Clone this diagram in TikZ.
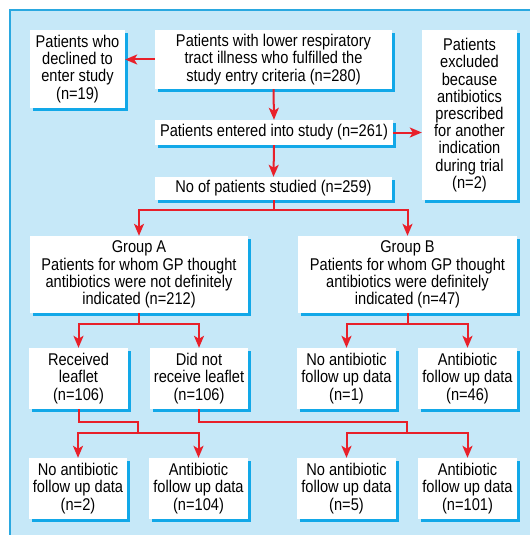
\documentclass[tikz,border=0pt]{standalone}
\usepackage{fontspec}
\setmainfont[FakeStretch=0.86]{Liberation Sans}
\usetikzlibrary{arrows.meta,shadows,calc}
\definecolor{bg}{HTML}{C6E8F8}
\definecolor{edge}{HTML}{2AA8E0}
\definecolor{shad}{HTML}{12A8E8}
\definecolor{arr}{HTML}{E8202A}
\begin{document}
\begin{tikzpicture}[x=1pt,y=-1pt,
 box/.style={fill=white, align=center, inner sep=0pt,
   font=\fontsize{17}{17.2}\selectfont,
   drop shadow={shadow xshift=3pt, shadow yshift=-3pt, fill=shad, opacity=1}},
 conn/.style={draw=arr, line width=2pt, -{Stealth[length=12pt,width=10pt,inset=3pt]}},
 plain/.style={draw=arr, line width=2pt}]
\useasboundingbox (0,0) rectangle (530,535);
\fill[bg] (10,10) rectangle (530,535);
\draw[edge, line width=1.3pt] (10,535) -- (10,10) -- (530,10);

\node[box, minimum width=95pt, minimum height=78pt] (decl) at (77.5,69) {Patients who\\declined to\\enter study\\(n=19)};
\node[box, minimum width=237pt, minimum height=59pt] (top) at (273.5,59.5) {Patients with lower respiratory\\tract illness who fulfilled the\\study entry criteria (n=280)};
\node[box, minimum width=238pt, minimum height=25pt] (entered) at (274,132.5) {Patients entered into study (n=261)};
\node[box, minimum width=237pt, minimum height=23pt] (studied) at (273.5,188.5) {No of patients studied (n=259)};
\node[box, minimum width=95pt, minimum height=170pt] (excl) at (469.5,115) {Patients\\excluded\\because\\antibiotics\\prescribed\\for another\\indication\\during trial\\(n=2)};
\node[box, minimum width=218pt, minimum height=77pt] (gA) at (139,274.5) {Group A\\Patients for whom GP thought\\antibiotics were not definitely\\indicated (n=212)};
\node[box, minimum width=219pt, minimum height=77pt] (gB) at (407.5,274.5) {Group B\\Patients for whom GP thought\\antibiotics were definitely\\indicated (n=47)};
\node[box, minimum width=99pt, minimum height=61pt] (recv) at (78.5,378.5) {Received\\leaflet\\(n=106)};
\node[box, minimum width=98pt, minimum height=61pt] (notrecv) at (199,378.5) {Did not\\receive leaflet\\(n=106)};
\node[box, minimum width=99pt, minimum height=61pt] (b1) at (346.5,378.5) {No antibiotic\\follow up data\\(n=1)};
\node[box, minimum width=99pt, minimum height=61pt] (b46) at (467.5,378.5) {Antibiotic\\follow up data\\(n=46)};
\node[box, minimum width=98pt, minimum height=61pt] (n2) at (78,488.5) {No antibiotic\\follow up data\\(n=2)};
\node[box, minimum width=99pt, minimum height=61pt] (n104) at (198.5,488.5) {Antibiotic\\follow up data\\(n=104)};
\node[box, minimum width=99pt, minimum height=61pt] (n5) at (346.5,488.5) {No antibiotic\\follow up data\\(n=5)};
\node[box, minimum width=99pt, minimum height=61pt] (n101) at (467.5,488.5) {Antibiotic\\follow up data\\(n=101)};

\coordinate (j1) at ($(studied.south)+(0,10)$);
\coordinate (j2) at ($(gA.south)+(0,11)$);
\coordinate (j3) at ($(gB.south)+(0,11)$);
\coordinate (k1) at ($(recv.south)+(0,13)$);
\coordinate (m1) at ($($(n2.north)!0.5!(n104.north)$)+(0,-25)$);
\coordinate (k2) at ($(notrecv.south)+(0,13)$);
\coordinate (m2) at ($($(n5.north)!0.5!(n101.north)$)+(0,-25)$);

\draw[conn] (top.west) -- (top.west -| decl.east);
\draw[conn] (top.south) -- (entered.north);
\draw[conn] (entered.east) -- (entered.east -| excl.west);
\draw[conn] (entered.south) -- (studied.north);
\draw[conn] (studied.south) -- (j1) -| (gA.north);
\draw[conn] (j1) -| (gB.north);
\draw[conn] (gA.south) -- (j2) -| (recv.north);
\draw[conn] (j2) -| (notrecv.north);
\draw[conn] (gB.south) -- (j3) -| (b1.north);
\draw[conn] (j3) -| (b46.north);
\draw[plain] (recv.south) -- (k1) -| (m1);
\draw[conn] (m1) -| (n2.north);
\draw[conn] (m1) -| (n104.north);
\draw[plain] (notrecv.south) -- (k2) -| (m2);
\draw[conn] (m2) -| (n5.north);
\draw[conn] (m2) -| (n101.north);
\end{tikzpicture}
\end{document}
